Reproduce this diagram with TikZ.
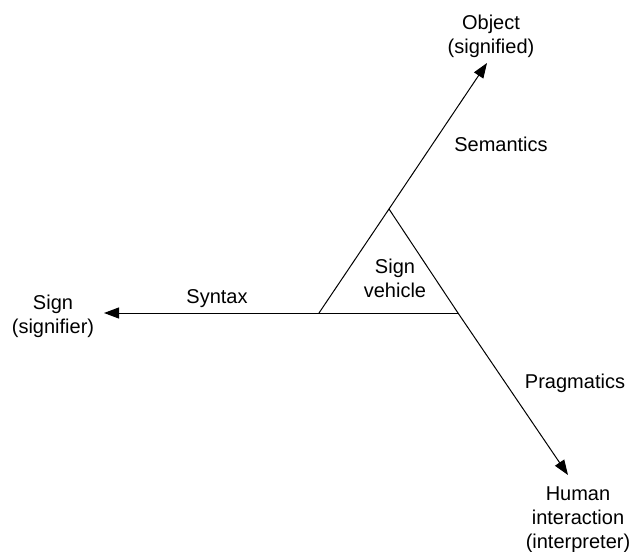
\documentclass[tikz,border=0pt]{standalone}
\usepackage{fontspec}
\setmainfont{Liberation Sans}
\usetikzlibrary{arrows.meta}
\begin{document}
\begin{tikzpicture}[x=1pt,y=-1pt,
  axis/.style={line width=1pt, -{Triangle[length=15pt,width=11pt]}},
  edge/.style={line width=1pt},
  lbl/.style={inner sep=0pt, font=\fontsize{20}{24}\selectfont, align=center}]
  \useasboundingbox (0,0) rectangle (630,552);

  % corners of the sign-vehicle triangle
  \coordinate (bl) at (319,313);
  \coordinate (top) at (389,209);
  \coordinate (br) at (458,313);

  % arrow ends
  \coordinate (tobj) at (487,63);
  \coordinate (tsign) at (104,313);
  \coordinate (thum) at (568,475);

  % triangle sides, each continued into an axis
  \draw[edge] (bl) -- (top);
  \draw[axis] (top) -- (tobj);
  \draw[edge] (top) -- (br);
  \draw[axis] (br) -- (thum);
  \draw[edge] (br) -- (bl);
  \draw[axis] (bl) -- (tsign);

  % texts
  \node[lbl] (veh) at (395,278) {Sign\\vehicle};
  \node[lbl] (obj) at (491,36) {Object\\(signified)};
  \node[lbl] (sign) at (53,316) {Sign\\(signifier)};
  \node[lbl] (hum) at (578,520) {Human\\interaction\\(interpreter)};
  \node[lbl] (syn) at (217,299) {Syntax};
  \node[lbl] (sem) at (501,144) {Semantics};
  \node[lbl] (prag) at (575,383) {Pragmatics};
\end{tikzpicture}
\end{document}
